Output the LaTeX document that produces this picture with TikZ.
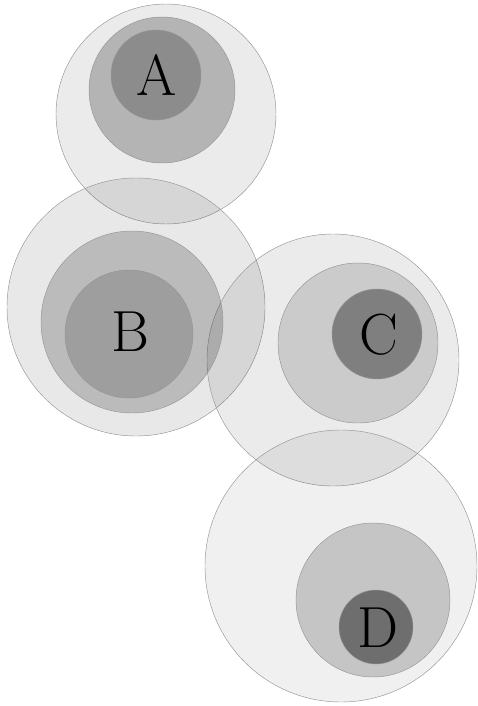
\documentclass[tikz,border=0pt]{standalone}
\usepackage{fontspec}

\tikzset{
    ring/.style={fill=black, draw=black!42, line width=0.45pt},
    letter/.style={font=\fontsize{58}{58}\selectfont, inner sep=0pt}
}

\begin{document}
\begin{tikzpicture}[x=1pt,y=-1pt]

\useasboundingbox (0,0) rectangle (477,706);

% ===== Outer circles =====
\foreach \cx/\cy/\r/\op in {166/114/110/0.08, 136/307/129/0.09, 333/360/126/0.08, 341/566/136/0.06} {
    \filldraw[ring, fill opacity=\op] (\cx,\cy) circle[radius=\r];
}

% ===== Middle circles =====
\foreach \cx/\cy/\r/\op in {162/90/73/0.234, 132/322/91/0.196, 358/343/80/0.136, 373/600/77/0.18} {
    \filldraw[ring, fill opacity=\op] (\cx,\cy) circle[radius=\r];
}

% ===== Inner circles =====
\foreach \cx/\cy/\r/\op in {156/75/45/0.22, 129/334/64/0.153, 377/334/45/0.374, 376/627/37/0.44} {
    \filldraw[ring, fill opacity=\op] (\cx,\cy) circle[radius=\r];
}

% ===== Labels =====
\node[letter] (a) at (157,75) {A};
\node[letter] (b) at (130,332) {B};
\node[letter] (c) at (379,335) {C};
\node[letter] (d) at (378,628) {D};

\end{tikzpicture}
\end{document}
